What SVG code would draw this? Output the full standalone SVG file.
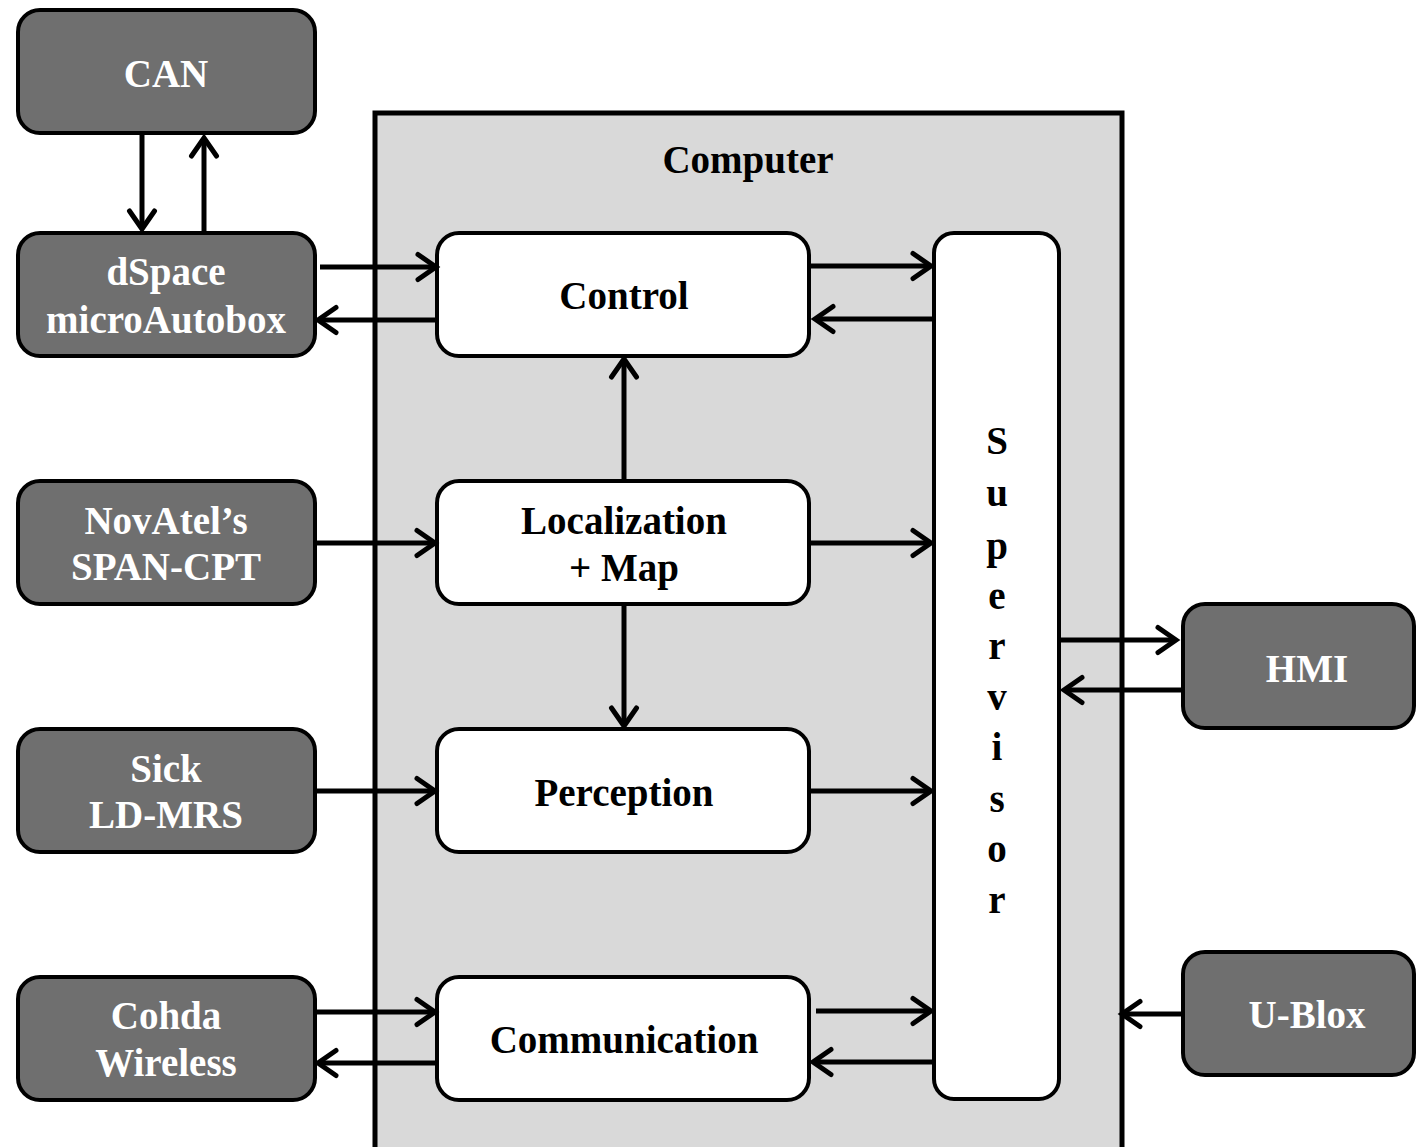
<svg xmlns="http://www.w3.org/2000/svg" width="1416" height="1147" viewBox="0 0 1416 1147">
<style>
.ext{fill:#6f6f6f;stroke:#000;stroke-width:4}
.int{fill:#fff;stroke:#000;stroke-width:4}
.wt{font-family:"Liberation Serif","Times New Roman",serif;font-weight:bold;font-size:39px;fill:#fff;text-anchor:middle}
.bt{font-family:"Liberation Serif","Times New Roman",serif;font-weight:bold;font-size:39px;fill:#000;text-anchor:middle}
.c line{stroke:#000;stroke-width:5;marker-end:url(#ah)}
</style>
<defs>
<marker id="ah" markerUnits="userSpaceOnUse" markerWidth="32" markerHeight="32" refX="24" refY="16" orient="auto" viewBox="0 0 32 32">
<path d="M6,3.5 L24,16 L6,28.5" fill="none" stroke="#000" stroke-width="5" stroke-linecap="round" stroke-linejoin="miter"/>
</marker>
</defs>
<rect width="1416" height="1147" fill="#fff"/>
<g id="computer">
<rect x="375" y="113" width="747" height="1060" fill="#d9d9d9" stroke="#000" stroke-width="5"/>
<text class="bt" x="748" y="173">Computer</text>
</g>
<g id="can"><rect class="ext" x="18" y="10" width="297" height="123" rx="22"/><text class="wt" x="166" y="87">CAN</text></g>
<g id="dspace"><rect class="ext" x="18" y="233" width="297" height="123" rx="22"/><text class="wt" x="166" y="285">dSpace</text><text class="wt" x="166" y="333">microAutobox</text></g>
<g id="novatel"><rect class="ext" x="18" y="481" width="297" height="123" rx="22"/><text class="wt" x="166" y="534">NovAtel’s</text><text class="wt" x="166" y="580">SPAN-CPT</text></g>
<g id="sick"><rect class="ext" x="18" y="729" width="297" height="123" rx="22"/><text class="wt" x="166" y="782">Sick</text><text class="wt" x="166" y="828">LD-MRS</text></g>
<g id="cohda"><rect class="ext" x="18" y="977" width="297" height="123" rx="22"/><text class="wt" x="166" y="1029">Cohda</text><text class="wt" x="166" y="1076">Wireless</text></g>
<g id="hmi"><rect class="ext" x="1183" y="604" width="231" height="124" rx="22"/><text class="wt" x="1307" y="682">HMI</text></g>
<g id="ublox"><rect class="ext" x="1183" y="952" width="231" height="123" rx="22"/><text class="wt" x="1307" y="1028">U-Blox</text></g>
<g id="control"><rect class="int" x="437" y="233" width="372" height="123" rx="22"/><text class="bt" x="624" y="309">Control</text></g>
<g id="localization"><rect class="int" x="437" y="481" width="372" height="123" rx="22"/><text class="bt" x="624" y="534">Localization</text><text class="bt" x="624" y="581">+ Map</text></g>
<g id="perception"><rect class="int" x="437" y="729" width="372" height="123" rx="22"/><text class="bt" x="624" y="806">Perception</text></g>
<g id="communication"><rect class="int" x="437" y="977" width="372" height="123" rx="22"/><text class="bt" x="624" y="1053">Communication</text></g>
<g id="supervisor"><rect class="int" x="934" y="233" width="125" height="866" rx="20"/>
<text class="bt" x="997" y="454">S</text>
<text class="bt" x="997" y="506">u</text>
<text class="bt" x="997" y="559">p</text>
<text class="bt" x="997" y="609">e</text>
<text class="bt" x="997" y="659">r</text>
<text class="bt" x="997" y="710">v</text>
<text class="bt" x="997" y="760">i</text>
<text class="bt" x="997" y="812">s</text>
<text class="bt" x="997" y="862">o</text>
<text class="bt" x="997" y="913">r</text>
</g>
<g id="connectors" class="c">
<line x1="142" y1="134" x2="142" y2="229"/>
<line x1="204" y1="232" x2="204" y2="138"/>
<line x1="320" y1="267" x2="436" y2="267"/>
<line x1="437" y1="320" x2="318" y2="320"/>
<line x1="811" y1="266" x2="931" y2="266"/>
<line x1="934" y1="319" x2="815" y2="319"/>
<line x1="624" y1="481" x2="624" y2="359"/>
<line x1="624" y1="604" x2="624" y2="726"/>
<line x1="316" y1="543" x2="435" y2="543"/>
<line x1="809" y1="543" x2="931" y2="543"/>
<line x1="316" y1="791" x2="435" y2="791"/>
<line x1="809" y1="791" x2="931" y2="791"/>
<line x1="316" y1="1012" x2="435" y2="1012"/>
<line x1="437" y1="1063" x2="318" y2="1063"/>
<line x1="816" y1="1011" x2="931" y2="1011"/>
<line x1="932" y1="1062" x2="813" y2="1062"/>
<line x1="1059" y1="640" x2="1176" y2="640"/>
<line x1="1183" y1="690" x2="1064" y2="690"/>
<line x1="1183" y1="1014" x2="1122" y2="1014"/>
</g>
</svg>
